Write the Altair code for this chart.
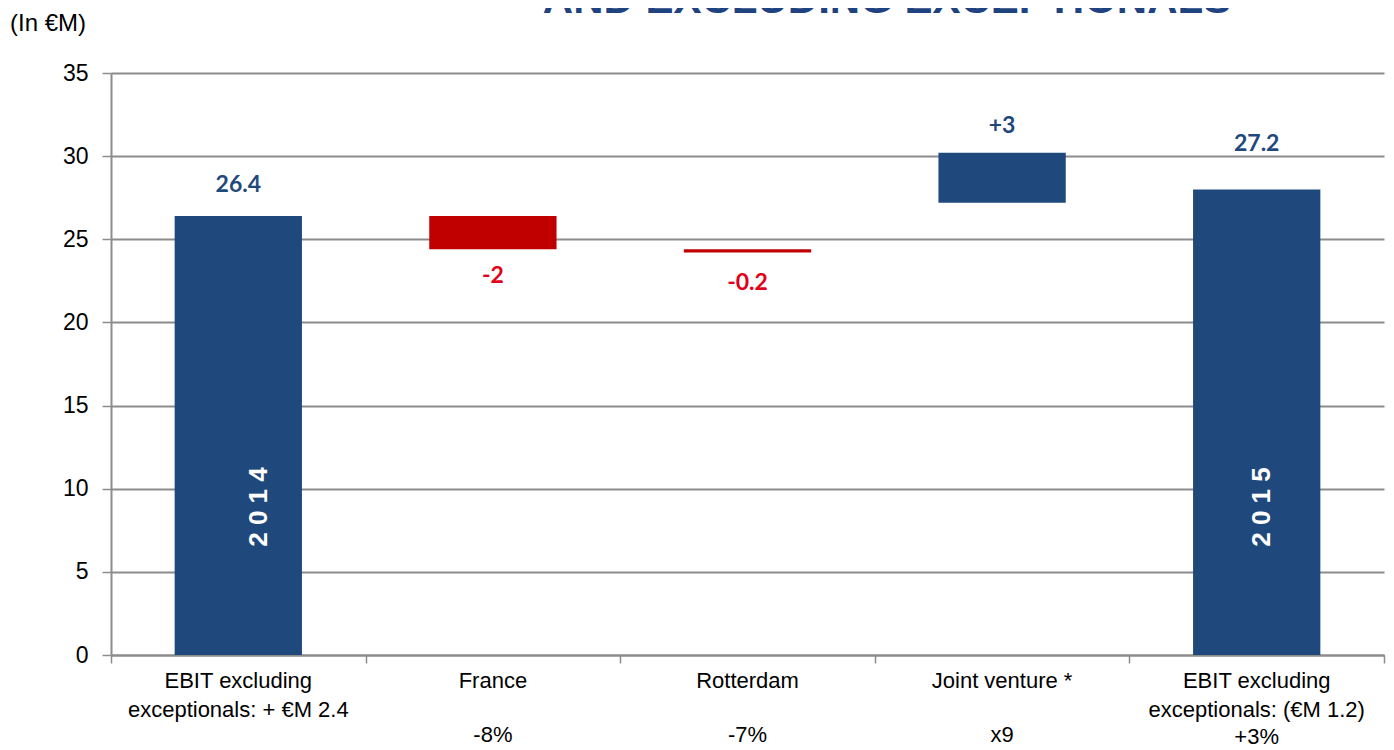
import altair as alt
import pandas as pd

# ---- data ----
categories = [
    "EBIT excluding|exceptionals: + €M 2.4",
    "France",
    "Rotterdam",
    "Joint venture *",
    "EBIT excluding|exceptionals: (€M 1.2)",
]
bar_low = [0, 24.4, 24.2, 27.2, 0]
bar_high = [26.4, 26.4, 24.4, 30.2, 28.0]
value_labels = ["26.4", "-2", "-0.2", "+3", "27.2"]
kinds = ["total", "decrease", "decrease", "increase", "total"]
changes = ["", "-8%", "-7%", "x9", "+3%"]
years = ["2014", "", "", "", "2015"]
y_ticks = [0, 5, 10, 15, 20, 25, 30, 35]
title_text = "AND EXCLUDING EXCEPTIONALS"
unit_text = "(In €M)"

# ---- styles ----
BLUE = "#1F497D"
RED = "#C00000"
RED_TXT = "#E2001A"
GRID = "#8C8C8C"
PAD_L, PAD_R, PAD_T, PAD_B = 103, 2, 65, 95
W, H = 1273, 582
label_dy = [-24, 34, 37, -20, -38]
year_dy = {0: 21, 4: 5}

df = pd.DataFrame({
    "idx": list(range(len(categories))),
    "cat": categories,
    "low": bar_low,
    "high": bar_high,
    "label": value_labels,
    "kind": kinds,
    "pct": changes,
    "year": ["\u00a0".join(list(y)) if y else "" for y in years],
})
df["anchor"] = [lo if k == "decrease" else hi for lo, hi, k in zip(df["low"], df["high"], df["kind"])]

x_enc = alt.X(
    "cat:N",
    sort=categories,
    scale=alt.Scale(paddingInner=0, paddingOuter=0),
    axis=alt.Axis(
        title=None,
        labels=False,
        tickBand="extent",
        tickSize=8,
        tickColor=GRID,
        tickWidth=1.5,
        domainColor=GRID,
        domainWidth=2,
        grid=False,
    ),
)
x_plain = alt.X("cat:N", sort=categories)

base = alt.Chart(df)

bars = base.mark_bar(stroke=None, width=alt.RelativeBandSize(0.5)).encode(
    x=x_enc,
    y=alt.Y(
        "low:Q",
        scale=alt.Scale(domain=[0, 35], nice=False, zero=True),
        axis=alt.Axis(
            values=y_ticks,
            title=None,
            grid=True,
            gridColor=GRID,
            gridWidth=2,
            tickSize=9,
            tickColor=GRID,
            tickWidth=1.5,
            domainColor=GRID,
            domainWidth=2,
            labelFont="Liberation Sans",
            labelFontSize=23,
            labelColor="#000000",
            labelPadding=14,
        ),
    ),
    y2="high:Q",
    color=alt.Color(
        "kind:N",
        scale=alt.Scale(domain=["total", "increase", "decrease"], range=[BLUE, BLUE, RED]),
        legend=None,
    ),
)

layers = [bars]

# category labels under the axis
layers.append(
    base.mark_text(font="Liberation Sans", fontSize=22, color="#000000",
                   baseline="top", align="center", lineBreak="|", lineHeight=29)
    .encode(x=x_plain, y=alt.value(H + 16), text="cat:N")
)

for i in range(len(categories)):
    col = RED_TXT if kinds[i] == "decrease" else BLUE
    layers.append(
        base.transform_filter(f"datum.idx == {i}")
        .mark_text(font="Lato", fontWeight="bold", fontSize=23, color=col,
                   baseline="alphabetic", align="center", dy=label_dy[i])
        .encode(x=x_plain, y="anchor:Q", text="label:N")
    )

for i, d in year_dy.items():
    layers.append(
        base.transform_filter(f"datum.idx == {i}")
        .mark_text(font="Liberation Sans", fontWeight="bold", fontSize=26, color="white",
                   angle=270, baseline="middle", align="center", dy=d)
        .encode(x=x_plain, y=alt.value(434), text="year:N")
    )

layers.append(
    base.transform_filter("datum.pct != '' && datum.idx < 4")
    .mark_text(font="Liberation Sans", fontSize=22, color="#000000",
               baseline="alphabetic", align="center")
    .encode(x=x_plain, y=alt.value(H + 87), text="pct:N")
)
layers.append(
    base.transform_filter("datum.pct != '' && datum.idx == 4")
    .mark_text(font="Liberation Sans", fontSize=22, color="#000000",
               baseline="alphabetic", align="center")
    .encode(x=x_plain, y=alt.value(H + 89), text="pct:N")
)

layers.append(
    alt.Chart(pd.DataFrame({"t": [title_text]}))
    .mark_text(font="Liberation Sans", fontWeight="bold", fontSize=42, color="#1F4380",
               baseline="alphabetic", align="center")
    .encode(x=alt.value(776), y=alt.value(-60), text="t:N")
)
layers.append(
    alt.Chart(pd.DataFrame({"t": [unit_text]}))
    .mark_text(font="Liberation Sans", fontSize=24, color="#000000",
               baseline="middle", align="left")
    .encode(x=alt.value(-PAD_L + 2), y=alt.value(-49), text="t:N")
)

chart = (
    alt.layer(*layers)
    .properties(
        width=W,
        height=H,
        autosize=alt.AutoSizeParams(type="none"),
        padding={"left": PAD_L, "top": PAD_T, "right": PAD_R, "bottom": PAD_B},
        background="white",
    )
    .configure_view(stroke=None)
)

chart.save("out.html", embed_options={"renderer": "svg", "actions": False})
